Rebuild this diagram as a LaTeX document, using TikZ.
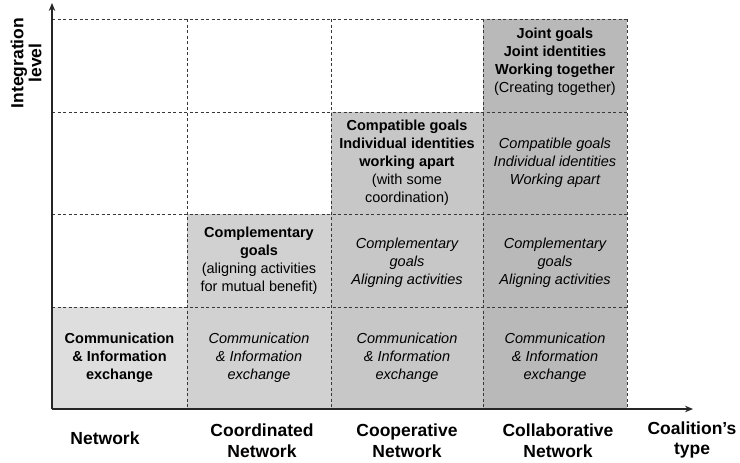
\documentclass[tikz,border=0pt]{standalone}
\usepackage{fontspec}
\setmainfont{Liberation Sans}
\usetikzlibrary{arrows.meta}
\definecolor{cA}{HTML}{DEDEDE}
\definecolor{cB}{HTML}{D1D1D1}
\definecolor{cC}{HTML}{C7C7C7}
\definecolor{cD}{HTML}{B9B9B9}
\definecolor{gridc}{HTML}{383838}
\definecolor{axisc}{HTML}{262626}
\begin{document}
\begin{tikzpicture}[x=1pt,y=-1pt,
  cell/.style={inner sep=0pt, outer sep=0pt, align=center,
    font=\fontsize{14.5}{18}\selectfont},
  celltext/.style={inner sep=0pt, outer sep=0pt, align=center,
    font=\fontsize{14.5}{18}\selectfont},
  axlabel/.style={align=center, inner sep=0pt,
    font=\fontsize{17.5}{21}\selectfont\bfseries},
  gridline/.style={draw=gridc, line width=0.8pt, dash pattern=on 3pt off 2.5pt},
  axisline/.style={draw=axisc, line width=2.3pt,
    -{Stealth[length=8pt,width=6.5pt]}}]
\useasboundingbox (0,0) rectangle (740,463);
% column widths: 135,144,152,144 ; row heights: 93,102,93,102
% row 4 (bottom)
\node[cell, fill=cA, minimum width=135pt, minimum height=102pt] (r4c1) at (119.5,358)
  {\bfseries Communication\\\bfseries \& Information\\\bfseries exchange};
\node[cell, fill=cB, minimum width=144pt, minimum height=102pt] (r4c2) at (259,358)
  {\itshape Communication\\\itshape \& Information\\\itshape exchange};
\node[cell, fill=cC, minimum width=152pt, minimum height=102pt] (r4c3) at (407,358)
  {\itshape Communication\\\itshape \& Information\\\itshape exchange};
\node[cell, fill=cD, minimum width=144pt, minimum height=102pt] (r4c4) at (555,358)
  {\itshape Communication\\\itshape \& Information\\\itshape exchange};
% row 3
\node[cell, fill=cB, minimum width=144pt, minimum height=93pt] (r3c2) at (259,260.5)
  {\bfseries Complementary\\\bfseries goals\\(aligning activities\\for mutual benefit)};
\node[cell, fill=cC, minimum width=152pt, minimum height=93pt] (r3c3) at (407,260.5) {};
\node[celltext] (r3c3t) at (407,263)
  {\itshape Complementary\\\itshape goals\\\itshape Aligning activities};
\node[cell, fill=cD, minimum width=144pt, minimum height=93pt] (r3c4) at (555,260.5) {};
\node[celltext] (r3c4t) at (555,263)
  {\itshape Complementary\\\itshape goals\\\itshape Aligning activities};
% row 2
\node[cell, fill=cC, minimum width=152pt, minimum height=102pt] (r2c3) at (407,163)
  {\bfseries Compatible goals\\\bfseries Individual identities\\\bfseries working apart\\(with some\\coordination)};
\node[cell, fill=cD, minimum width=144pt, minimum height=102pt] (r2c4) at (555,163)
  {\itshape Compatible goals\\\itshape Individual identities\\\itshape Working apart};
% row 1
\node[cell, fill=cD, minimum width=144pt, minimum height=93pt] (r1c4) at (555,65.5) {};
\node[celltext] (r1c4t) at (555,61.5)
  {\bfseries Joint goals\\\bfseries Joint identities\\\bfseries Working together\\(Creating together)};
% dashed grid
\draw[gridline] (52,19) -- (627,19);
\draw[gridline] (52,112) -- (627,112);
\draw[gridline] (52,214) -- (627,214);
\draw[gridline] (52,307) -- (627,307);
\draw[gridline] (187,19) -- (187,409);
\draw[gridline] (331,19) -- (331,409);
\draw[gridline] (483,19) -- (483,409);
\draw[gridline] (627,19) -- (627,409);
% axes
\coordinate (O) at (52,409);
\coordinate (ytip) at (52,3);
\coordinate (xtip) at (693,409);
\draw[axisline] (O) -- (ytip);
\draw[axisline] (O) -- (xtip);
% labels
\node[axlabel, rotate=90, font=\fontsize{17.5}{18}\selectfont\bfseries] (ylab) at (26,63) {Integration\\level};
\node[axlabel] (l1) at (105,438) {Network};
\node[axlabel] (l2) at (262,441) {Coordinated\\Network};
\node[axlabel] (l3) at (407,441) {Cooperative\\Network};
\node[axlabel] (l4) at (558,441) {Collaborative\\Network};
\node[axlabel, font=\fontsize{17.5}{20}\selectfont\bfseries] (xlab) at (692,440) {Coalition’s\\type};
\end{tikzpicture}
\end{document}
